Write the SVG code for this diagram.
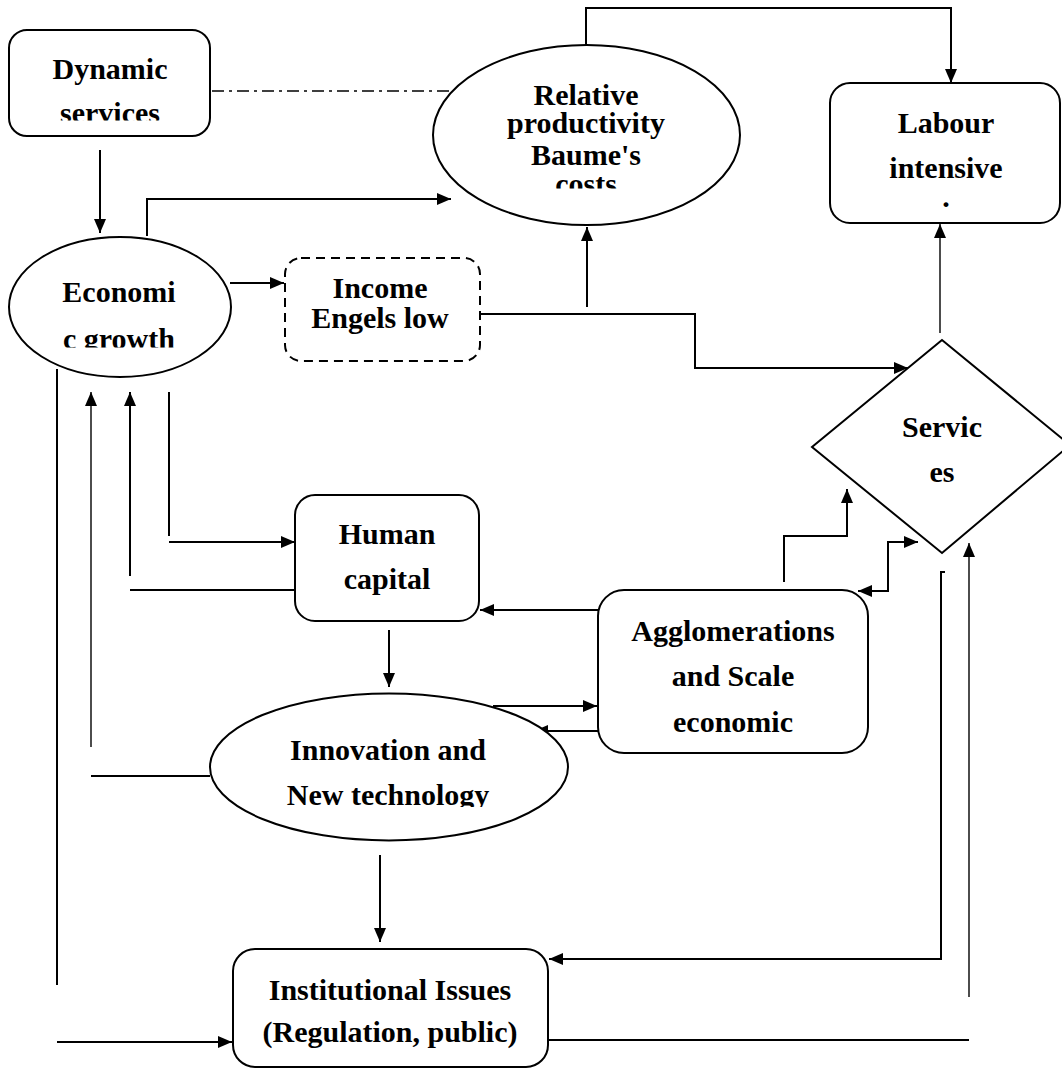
<svg xmlns="http://www.w3.org/2000/svg" width="1062" height="1069" viewBox="0 0 1062 1069">
  <style>
    .shape { fill: #ffffff; stroke: #000000; stroke-width: 2; }
    .dashed { stroke-dasharray: 9 6; }
    .label { font-family: "Liberation Serif", "Times New Roman", serif; font-weight: bold; font-size: 30px; fill: #000000; text-anchor: middle; }
    .wire { fill: none; stroke: #000000; stroke-width: 2; }
    .thin { stroke-width: 1.4; }
    .arrow { marker-end: url(#head); }
    .both { marker-start: url(#headStart); marker-end: url(#head); }
  </style>
  <defs>
    <marker id="head" viewBox="0 0 14 12" refX="14" refY="6" markerWidth="14" markerHeight="12" markerUnits="userSpaceOnUse" orient="auto">
      <path d="M0,0 L14,6 L0,12 Z" fill="#000000"/>
    </marker>
    <marker id="headStart" viewBox="0 0 14 12" refX="0" refY="6" markerWidth="14" markerHeight="12" markerUnits="userSpaceOnUse" orient="auto">
      <path d="M14,0 L0,6 L14,12 Z" fill="#000000"/>
    </marker>
    <clipPath id="clipDynamic"><rect x="0" y="0" width="240" height="120.5"/></clipPath>
    <clipPath id="clipRelative"><rect x="420" y="40" width="330" height="148.5"/></clipPath>
    <clipPath id="clipEconomic"><rect x="0" y="240" width="240" height="107.5"/></clipPath>
    <clipPath id="clipInnovation"><rect x="200" y="690" width="380" height="117"/></clipPath>
  </defs>

  <!-- connectors -->
  <g id="connectors">
    <!-- dynamic services down to economic growth -->
    <path class="wire arrow" d="M100,150 L100,233"/>
    <!-- dash-dot link between dynamic services and relative productivity -->
    <path class="wire thin" d="M212,91 L452,91" stroke-dasharray="12 5 3 5"/>
    <!-- economic growth to relative productivity -->
    <path class="wire arrow" d="M147,236 L147,199 L451,199"/>
    <!-- relative productivity to labour intensive -->
    <path class="wire arrow" d="M586,45 L586,8 L951,8 L951,83"/>
    <!-- economic growth to income -->
    <path class="wire arrow" d="M230,283 L284,283"/>
    <!-- income to services -->
    <path class="wire arrow" d="M480,314 L695,314 L695,368 L908,368"/>
    <!-- income branch up to relative productivity -->
    <path class="wire arrow" d="M587,307 L587,227"/>
    <!-- services up to labour intensive -->
    <path class="wire thin arrow" d="M940,333 L940,224"/>
    <!-- economic growth to human capital -->
    <path class="wire" d="M169,392 L169,536"/>
    <path class="wire arrow" d="M169,542 L295,542"/>
    <!-- human capital back to economic growth -->
    <path class="wire" d="M296,590 L130,590"/>
    <path class="wire arrow" d="M130,576 L130,392"/>
    <!-- innovation back to economic growth -->
    <path class="wire" d="M210,776 L91,776"/>
    <path class="wire thin arrow" d="M91,747 L91,392"/>
    <!-- economic growth down to institutional issues -->
    <path class="wire" d="M57,369 L57,985"/>
    <path class="wire arrow" d="M57,1042 L232,1042"/>
    <!-- agglomerations to human capital -->
    <path class="wire arrow" d="M598,610 L480,610"/>
    <!-- human capital to innovation -->
    <path class="wire arrow" d="M389,630 L389,687"/>
    <!-- innovation and agglomerations, both ways -->
    <path class="wire arrow" d="M493,706 L597,706"/>
    <path class="wire arrow" d="M598,731 L534,731"/>
    <!-- innovation to institutional issues -->
    <path class="wire arrow" d="M380,855 L380,942"/>
    <!-- agglomerations up to services -->
    <path class="wire arrow" d="M784,582 L784,536 L847,536 L847,489"/>
    <path class="wire both" d="M858,591 L888,591 L888,542 L918,542"/>
    <!-- services to institutional issues -->
    <path class="wire" d="M945,572 L941,572 L941,959 L549,959" marker-end="url(#head)"/>
    <!-- institutional issues back to services -->
    <path class="wire" d="M548,1040 L969,1040"/>
    <path class="wire thin arrow" d="M969,997 L969,543"/>
  </g>

  <!-- nodes -->
  <g id="dynamic-services">
    <rect class="shape" x="9" y="30" width="201" height="106" rx="18"/>
    <g clip-path="url(#clipDynamic)">
      <text class="label" x="110" y="79">Dynamic</text>
      <text class="label" x="110" y="123">services</text>
    </g>
  </g>

  <g id="relative-productivity">
    <ellipse class="shape" cx="586.5" cy="135" rx="153.5" ry="90"/>
    <g clip-path="url(#clipRelative)">
      <text class="label" x="586" y="105">Relative</text>
      <text class="label" x="586" y="133">productivity</text>
      <text class="label" x="586" y="165">Baume's</text>
      <text class="label" x="586" y="194">costs</text>
    </g>
  </g>

  <g id="labour-intensive">
    <rect class="shape" x="830" y="83" width="230" height="140" rx="20"/>
    <text class="label" x="946" y="133">Labour</text>
    <text class="label" x="946" y="178">intensive</text>
    <text class="label" x="946" y="207">.</text>
  </g>

  <g id="economic-growth">
    <ellipse class="shape" cx="120" cy="307" rx="111" ry="70"/>
    <g clip-path="url(#clipEconomic)">
      <text class="label" x="119" y="302">Economi</text>
      <text class="label" x="119" y="349">c growth</text>
    </g>
  </g>

  <g id="income-engels">
    <rect class="shape dashed" x="285" y="258" width="195" height="103" rx="16"/>
    <text class="label" x="380" y="298">Income</text>
    <text class="label" x="380" y="328">Engels low</text>
  </g>

  <g id="services">
    <polygon class="shape" points="942,340 812,447 942,553 1070,445"/>
    <text class="label" x="942" y="437">Servic</text>
    <text class="label" x="942" y="482">es</text>
  </g>

  <g id="human-capital">
    <rect class="shape" x="295" y="495" width="184" height="126" rx="20"/>
    <text class="label" x="387" y="544">Human</text>
    <text class="label" x="387" y="589">capital</text>
  </g>

  <g id="agglomerations">
    <rect class="shape" x="598" y="590" width="270" height="163" rx="26"/>
    <text class="label" x="733" y="641">Agglomerations</text>
    <text class="label" x="733" y="686">and Scale</text>
    <text class="label" x="733" y="732">economic</text>
  </g>

  <g id="innovation">
    <ellipse class="shape" cx="389" cy="767" rx="179" ry="73.5"/>
    <g clip-path="url(#clipInnovation)">
      <text class="label" x="388" y="760">Innovation and</text>
      <text class="label" x="388" y="805">New technology</text>
    </g>
  </g>

  <g id="institutional-issues">
    <rect class="shape" x="233" y="949" width="315" height="118" rx="22"/>
    <text class="label" x="390" y="1000">Institutional Issues</text>
    <text class="label" x="390" y="1042">(Regulation, public)</text>
  </g>
</svg>
